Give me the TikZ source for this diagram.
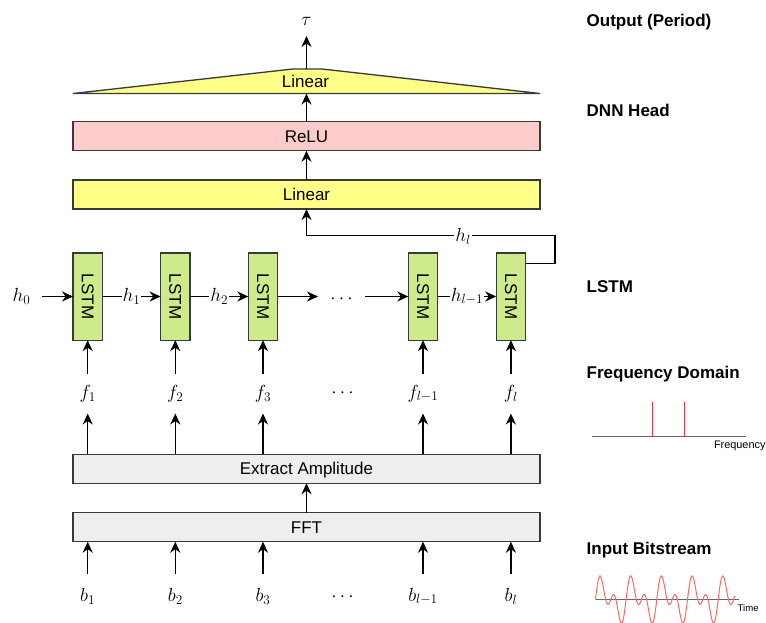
\documentclass[tikz,border=0pt]{standalone}
\usepackage[no-math]{fontspec}
\newfontfamily\arial{Liberation Sans}
\usetikzlibrary{arrows.meta,calc}
% scalable Computer Modern math shapes
\DeclareFontShape{OML}{cmm}{m}{it}{<-6>cmmi5<6-8>cmmi7<8-11>cmmi10<11->cmmi12}{}
\DeclareFontShape{OT1}{cmr}{m}{n}{<-6>cmr5<6-8>cmr7<8-11>cmr10<11->cmr12}{}
\DeclareFontShape{OMS}{cmsy}{m}{n}{<-6>cmsy5<6-8>cmsy7<8->cmsy10}{}
\definecolor{yel}{HTML}{FFFF88}
\definecolor{pinkfill}{HTML}{FFCCCC}
\definecolor{lstmgreen}{HTML}{CDEB8B}
\definecolor{greyfill}{HTML}{EEEEEE}
\definecolor{edge}{HTML}{36393D}
\definecolor{spikered}{HTML}{FF3333}
\definecolor{wavered}{HTML}{FF6666}
\definecolor{axisgrey}{HTML}{666666}
\begin{document}
\begin{tikzpicture}[x=1pt,y=-1pt,
  every node/.style={inner sep=0pt, outer sep=0pt},
  box/.style={draw=edge, line width=1.3pt, minimum width=467pt, minimum height=29pt,
    font=\arial\fontsize{17}{20}\selectfont, text height=12.2pt, text depth=0pt},
  cell/.style={draw=edge, line width=1.3pt, fill=lstmgreen, minimum width=29.3pt,
    minimum height=87.3pt, font=\arial\fontsize{17}{20}\selectfont},
  arr/.style={line width=1.5pt, -{Stealth[length=11pt,width=10pt,inset=3.5pt]}},
  lbl/.style={font=\fontsize{19}{23}\selectfont},
  hlab/.style={fill=white, inner sep=1pt, font=\fontsize{19}{23}\selectfont},
  side/.style={anchor=west, font=\arial\bfseries\fontsize{17}{20}\selectfont,
    text height=12.2pt, text depth=0pt},
]
\useasboundingbox (0,0) rectangle (766,623);

% ---------- DNN head ----------
\coordinate (tA) at (73,93.5);
\coordinate (tB) at (293,69);
\coordinate (tC) at (322,69);
\coordinate (tD) at (540,93.5);
\coordinate (hbase) at (306.5,93.5);
\coordinate (htop) at (306.5,69);
\draw[draw=edge, line width=1.3pt, fill=yel] (tA) -- (tB) -- (tC) -- (tD) -- cycle;
\node[font=\arial\fontsize{17}{20}\selectfont, text height=12.2pt, text depth=0pt] (headlin) at (305.5,81.5) {Linear};
\node[lbl, minimum height=30pt] (tau) at (306.5,21) {$\tau$};
\draw[arr] (htop) -- (tau.south);

\node[box, fill=pinkfill] (relu) at (306.5,136.2) {ReLU};
\node[box, fill=yel] (linbox) at (306.5,194.5) {Linear};
\draw[arr] (relu.north) -- (hbase);
\draw[arr] (linbox.north) -- (relu.south);

% ---------- LSTM chain ----------
\node[cell] (lstm1) at (87.7,296.5) {\rotatebox{-90}{LSTM}};
\node[cell] (lstm2) at (175.3,296.5) {\rotatebox{-90}{LSTM}};
\node[cell] (lstm3) at (263,296.5) {\rotatebox{-90}{LSTM}};
\node[cell] (lstm4) at (423,296.5) {\rotatebox{-90}{LSTM}};
\node[cell] (lstm5) at (510.9,296.5) {\rotatebox{-90}{LSTM}};

\node[lbl] (h0) at (21.5,296.5) {$h_0$};
\draw[arr] ([xshift=12pt]h0.east) -- (lstm1.west);
\draw[arr] (lstm1.east) -- (lstm2.west) node[hlab, midway] {$h_1$};
\draw[arr] (lstm2.east) -- (lstm3.west) node[hlab, midway] {$h_2$};
\node[lbl, minimum width=47pt] (dotsH) at (341.5,299) {$\cdots$};
\draw[arr] (lstm3.east) -- (lstm3.east -| dotsH.west);
\draw[arr] (lstm3.east -| dotsH.east) -- (lstm4.west);
\draw[arr] (lstm4.east) -- (lstm5.west) node[hlab, midway] {$h_{l-1}$};

% last hidden state feeds the head
\coordinate (hlout) at ($(lstm5.north east)+(0,10.5)$);
\coordinate (hcorner) at (555,235.7);
\draw[arr] (hlout) -| (hcorner) -- (hcorner -| linbox.south) -- (linbox.south);
\node[hlab] (hl) at (463,236.5) {$h_l$};

% ---------- frequency features ----------
\node[box, fill=greyfill] (ea) at (306.5,468.7) {Extract Amplitude};
\node[box, fill=greyfill] (fft) at (306.5,527.2) {FFT};
\draw[arr] (fft.north) -- (ea.south);

\node[lbl, minimum height=40pt] (f1) at (87.7,393.5) {$f_1$};
\node[lbl, minimum height=40pt] (f2) at (175.3,393.5) {$f_2$};
\node[lbl, minimum height=40pt] (f3) at (263,393.5) {$f_3$};
\node[lbl, minimum height=40pt] (f4) at (423,393.5) {$f_{l-1}$};
\node[lbl, minimum height=40pt] (f5) at (510.9,393.5) {$f_l$};
\node[lbl] (dotsF) at (342.5,393) {$\cdots$};

\node[lbl, minimum height=46pt] (b1) at (87.7,596.5) {$b_1$};
\node[lbl, minimum height=46pt] (b2) at (175.3,596.5) {$b_2$};
\node[lbl, minimum height=46pt] (b3) at (263,596.5) {$b_3$};
\node[lbl, minimum height=46pt] (b4) at (423,596.5) {$b_{l-1}$};
\node[lbl, minimum height=46pt] (b5) at (510.9,596.5) {$b_l$};
\node[lbl] (dotsB) at (342.5,597.5) {$\cdots$};

\foreach \i in {1,...,5} {
  \draw[arr] (ea.north -| f\i) -- (f\i.south);
  \draw[arr] (f\i.north) -- (lstm\i.south);
  \draw[arr] (b\i.north) -- (b\i.north |- fft.south);
}

% ---------- stage captions ----------
\node[side] (capOut) at (586.7,20) {Output (Period)};
\node[side] (capDnn) at (586.7,110) {DNN Head};
\node[side] (capLstm) at (586.7,286) {LSTM};
\node[side] (capFreq) at (586.7,372.5) {Frequency Domain};
\node[side] (capIn) at (586.7,548) {Input Bitstream};

% spectrum sketch
\draw[axisgrey, line width=1pt] (591.7,436.3) -- (746,436.3);
\draw[spikered, line width=1.3pt] (652.3,402) -- (652.3,436.3);
\draw[spikered, line width=1.3pt] (684.7,402) -- (684.7,436.3);
\node[anchor=west, font=\arial\fontsize{10.9}{12}\selectfont] (flab) at (714,446) {Frequency};

% bitstream sketch
\draw[axisgrey, line width=1pt] (596,599.5) -- (739,599.5);
\draw[wavered, line width=1pt] plot[domain=0:28.6, samples=300, smooth]
  ({595.4+4.886*\x},{599.5-13.4*(sin(\x r)+sin(2*\x r))});
\node[anchor=west, font=\arial\fontsize{9.6}{11}\selectfont] (tlab) at (737.7,607.7) {Time};
\end{tikzpicture}
\end{document}
